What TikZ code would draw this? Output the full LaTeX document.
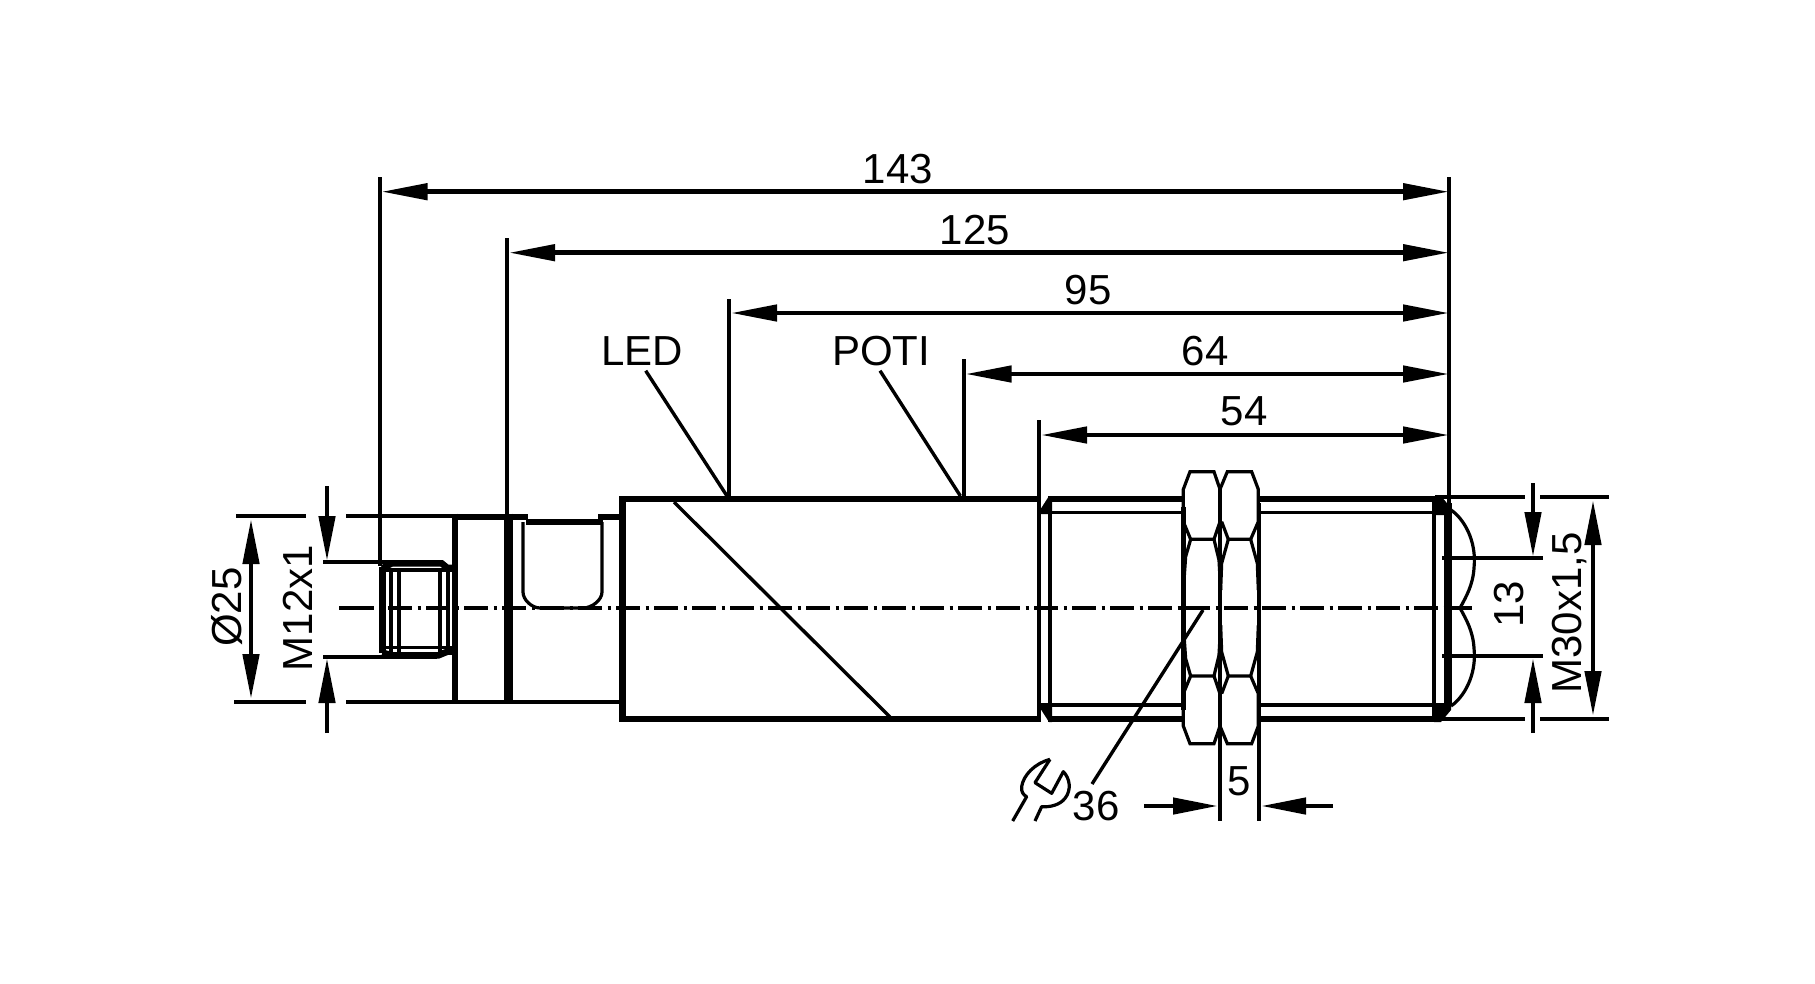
\documentclass[tikz,border=0pt]{standalone}
\usepackage{fontspec}
\setmainfont{Liberation Sans}
\usetikzlibrary{arrows.meta}
\tikzset{
  lbl/.style={inner sep=0pt,text depth=0pt,font=\fontsize{42}{42}\selectfont},
  ext/.style={line width=4.2pt},
  dimline/.style={line width=4.6pt},
  thin line/.style={line width=3.2pt},
  outline/.style={line width=6.8pt},
  wallline/.style={line width=4pt},
  headh/.tip={Triangle[length=46pt,width=16pt]},
  headv/.tip={Triangle[length=45pt,width=16pt]},
  axisline/.style={line width=3.6pt,dash pattern=on 24pt off 5.5pt on 3pt off 5.5pt},
  z3/.style={x=0.33333pt,y=-0.33333pt}
}
\begin{document}
\begin{tikzpicture}[x=1pt,y=-1pt,line cap=butt,line join=miter]
\useasboundingbox (0,0) rectangle (1815,983);
\fill[white] (0,0) rectangle (1815,983);

% axis
\draw[line width=3.6pt] (339,608) -- (374,608);
\draw[axisline] (388,608) -- (1472,608);

% extension lines (vertical)
\draw[ext] (379.6,177) -- (379.6,566);
\draw[ext] (507,238) -- (507,516);
\draw[ext] (729,299) -- (729,497);
\draw[ext] (963.6,359) -- (963.6,497);
\draw[ext] (1039,420) -- (1039,722);
\draw[ext] (1449,177) -- (1449,505);

% horizontal dims
\draw[dimline,{headh}-{headh}] (381.5,191.7) -- (1449,191.7);
\draw[dimline,{headh}-{headh}] (509,252.7) -- (1449,252.7);
\draw[dimline,{headh}-{headh}] (731,313) -- (1449,313);
\draw[dimline,{headh}-{headh}] (965.5,374) -- (1449,374);
\draw[dimline,{headh}-{headh}] (1041,435) -- (1449,435);

% left side
\draw[ext] (236,516) -- (306,516);
\draw[ext] (346,516) -- (452,516);
\draw[ext] (234,702) -- (306,702);
\draw[ext] (346,702) -- (623,702);
\draw[ext] (323,562) -- (440,562);
\draw[ext] (323,657) -- (437,657);
\draw[dimline,{headv}-{headv}] (251,519) -- (251,699);
\draw[dimline,-{headv}] (327,486) -- (327,561);
\draw[dimline,-{headv}] (327,733) -- (327,658);

% M12 connector
\begin{scope}[z3,shift={(1110,1620)}]
  \draw[line width=7.4pt] (37,80) -- (37,340);
  \draw[line width=6.6pt] (37,85) -- (65,70) -- (215,70) -- (232,84) -- (248,84);
  \draw[line width=6.6pt] (37,338) -- (65,346) -- (205,346) -- (232,335) -- (248,335);
  \draw[thin line] (47,90) -- (245,90);
  \draw[thin line] (47,322) -- (245,322);
  \draw[wallline] (63,85) -- (63,338);
  \draw[wallline] (87,85) -- (87,338);
  \draw[wallline] (210,85) -- (210,338);
  \draw[wallline] (234,85) -- (234,338);
\end{scope}

% flange and neck
\draw[line width=6pt] (454.5,513.5) -- (454.5,704);
\draw[line width=8.6pt] (508.5,513.5) -- (508.5,704);
\draw[line width=6.4pt] (452,517) -- (528,517);
\draw[line width=6pt] (526,522) -- (603,522);
\draw[line width=6.4pt] (598,517) -- (625,517);
\draw[thin line] (523,522) -- (523,592) .. controls (523,600) and (532,608) .. (540,608) -- (583,608) .. controls (592,608) and (602,600) .. (602,592) -- (602,522);

% main body
\draw[outline] (1039,719) -- (622.5,719) -- (622.5,499) -- (1039,499);
\draw[line width=3.4pt] (674,502) -- (890,717);

% LED / POTI leaders
\draw[line width=3.4pt] (645.7,370.7) -- (727,496);
\draw[line width=3.4pt] (880,370.7) -- (960.4,496);

% threads
\draw[outline] (1048,499) -- (1183,499);
\draw[outline] (1048,719) -- (1183,719);
\draw[outline] (1260,499) -- (1437,499);
\draw[outline] (1260,719) -- (1437,719);
\draw[thin line] (1040,512.7) -- (1183,512.7);
\draw[thin line] (1040,705) -- (1183,705);
\draw[thin line] (1260,512.7) -- (1436,512.7);
\draw[thin line] (1260,705) -- (1436,705);
\draw[wallline] (1050,497) -- (1050,721);
\fill (1040,510) -- (1049,496) -- (1052,496) -- (1052,514) -- (1040,514) -- cycle;
\fill (1040,708) -- (1049,722) -- (1052,722) -- (1052,704) -- (1040,704) -- cycle;

% right end
\draw[wallline] (1434,497) -- (1434,721);
\draw[line width=8pt] (1447.5,503) -- (1447.5,705);
\fill (1434,496) -- (1441,496) -- (1451,508) -- (1451,515) -- (1434,515) -- cycle;
\fill (1434,722) -- (1441,722) -- (1451,710) -- (1451,703) -- (1434,703) -- cycle;
\draw[thin line] (1451,510) .. controls (1463,518) and (1477,540) .. (1474,568) .. controls (1473,585) and (1466,597) .. (1460,608)
  .. controls (1466,619) and (1473,631) .. (1474,648) .. controls (1477,676) and (1463,698) .. (1451,706);

% right dims
\draw[ext] (1435,496.7) -- (1525,496.7);
\draw[ext] (1540,496.7) -- (1609,496.7);
\draw[ext] (1435,718.7) -- (1525,718.7);
\draw[ext] (1540,718.7) -- (1609,718.7);
\draw[ext] (1442,557.7) -- (1543,557.7);
\draw[ext] (1442,655.7) -- (1543,655.7);
\draw[dimline,-{headv}] (1533,483) -- (1533,557);
\draw[dimline,-{headv}] (1533,733) -- (1533,658);
\draw[dimline,{headv}-{headv}] (1593,500) -- (1593,716);

% nuts (zoom coordinates)
\begin{scope}[z3,shift={(3060,1350)}]
  \foreach \m in {0,1}{
    \begin{scope}[shift={(0,\m*946)},yscale={1-2*\m}]
      \draw[thin line] (490,200) -- (490,118) -- (510,65) -- (582,65) -- (600,118);
      \draw[thin line] (490,215) -- (512,268) -- (582,268) -- (600,215);
      \draw[thin line] (512,268) -- (497,320) -- (490,420);
      \draw[thin line] (582,268) -- (597,330) -- (602,420);
      \draw[thin line] (600,118) -- (622,65) -- (695,65) -- (715,118) -- (715,215) -- (692,268) -- (625,268) -- (605,215);
      \draw[thin line] (692,268) -- (712,340) -- (715,420);
      \draw[thin line] (625,268) -- (605,340) -- (602,420);
    \end{scope}
  }
  \draw[line width=4.4pt] (490,170) -- (490,780);
  \draw[line width=4.4pt] (717,160) -- (717,800);
  \draw[ext] (600,118) -- (600,1112);
  \draw[ext] (717,800) -- (717,1112);
\end{scope}

% five dim
\draw[dimline,-{headv}] (1144,806) -- (1218,806);
\draw[dimline,-{headv}] (1333,806) -- (1261,806);

% wrench leader
\draw[line width=3.4pt] (1092,784) -- (1203,610);

% wrench
\begin{scope}[z3,shift={(3000,2220)}]
  \draw[thin line,line join=round] (150,58) -- (105,128) -- (155,160) -- (190,95)
    .. controls (210,115) and (215,150) .. (195,175) .. controls (180,195) and (150,202) .. (125,200) -- (105,243);
  \draw[thin line,line join=round] (150,58) .. controls (105,70) and (70,105) .. (65,140) .. controls (63,155) and (70,165) .. (80,170) -- (38,243);
\end{scope}

% labels
\node[lbl] (t143) at (898,169) {143};
\node[lbl] (t125) at (975,230) {125};
\node[lbl] (t95) at (1088,290) {95};
\node[lbl] (t64) at (1205,351) {64};
\node[lbl] (t54) at (1244,411) {54};
\node[lbl] (tled) at (642,351) {LED};
\node[lbl] (tpoti) at (881,351) {POTI};
\node[lbl,rotate=90] (td) at (226,607) {Ø25};
\node[lbl,rotate=90] (tm12) at (298,608) {M12x1};
\node[lbl,rotate=90] (t13) at (1509,604) {13};
\node[lbl,rotate=90] (tm30) at (1567,613) {M30x1,5};
\node[lbl] (t5) at (1239,781) {5};
\node[lbl] (t36) at (1096,806) {36};
\end{tikzpicture}
\end{document}
